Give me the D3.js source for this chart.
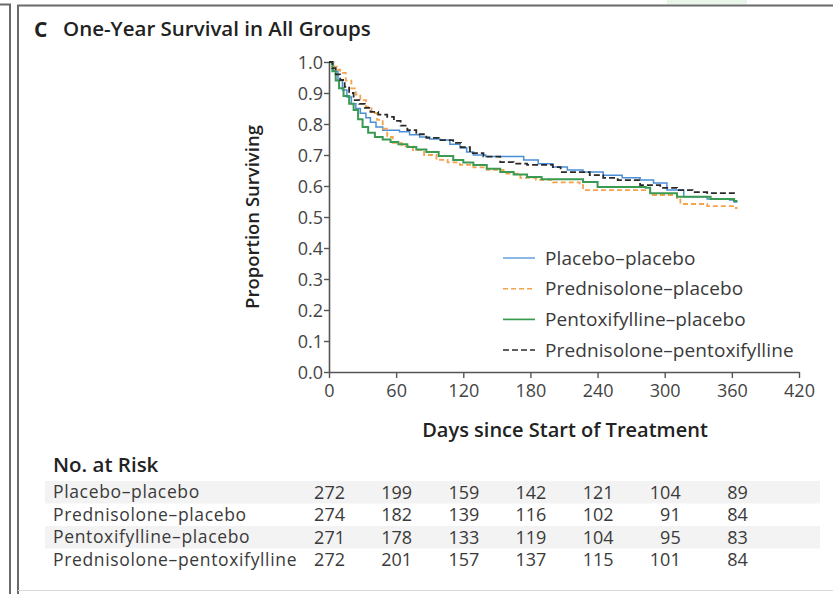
<!DOCTYPE html>
<html>
<head>
<meta charset="utf-8">
<script src="https://cdn.jsdelivr.net/npm/d3@7"></script>
<style>
  body { margin: 0; background: #fff; }
  svg { display: block; font-family: "Open Sans", sans-serif; }
</style>
</head>
<body>
<div id="app"></div>
<script>
// groups and their styles
const groups = ['Placebo\u2013placebo', 'Prednisolone\u2013placebo', 'Pentoxifylline\u2013placebo', 'Prednisolone\u2013pentoxifylline'];
const colors = ['#4a8fd6', '#f4a24c', '#3a9a52', '#2a2a2a'];
const dashes = [null, '5,3', null, '6,3'];
const widths = [1.5, 1.8, 2, 1.8];

// Kaplan-Meier steps: [day, proportion]
const placeboPlacebo = [[0,1],[4,0.97],[8,0.94],[12,0.91],[16,0.887],[20,0.865],[24,0.85],[28,0.835],[33,0.82],[37,0.806],[42,0.79],[48,0.78],[63,0.775],[72,0.765],[81,0.758],[90,0.752],[99,0.748],[108,0.735],[117,0.723],[123,0.71],[129,0.7],[140,0.695],[174,0.684],[187,0.672],[200,0.661],[213,0.652],[227,0.645],[245,0.635],[262,0.627],[278,0.619],[290,0.61],[302,0.587],[317,0.565],[338,0.558],[358,0.555],[362,0.548],[365,0.548]];
const prednisolonePlacebo = [[0,1],[4,0.985],[7,0.975],[10,0.965],[15,0.94],[20,0.915],[24,0.895],[28,0.877],[33,0.855],[38,0.835],[43,0.813],[48,0.785],[52,0.758],[57,0.739],[65,0.728],[75,0.716],[85,0.7],[96,0.684],[106,0.676],[117,0.668],[129,0.66],[141,0.652],[156,0.64],[171,0.626],[185,0.62],[200,0.612],[224,0.603],[227,0.587],[269,0.587],[287,0.571],[311,0.561],[314,0.542],[338,0.535],[362,0.529],[365,0.529]];
const pentoxifyllinePlacebo = [[0,1],[3,0.97],[6,0.94],[9,0.915],[13,0.89],[18,0.865],[22,0.845],[26,0.815],[30,0.79],[35,0.772],[41,0.758],[48,0.75],[55,0.742],[62,0.735],[70,0.726],[78,0.718],[87,0.71],[98,0.697],[111,0.684],[120,0.676],[129,0.668],[141,0.656],[153,0.645],[165,0.637],[177,0.629],[190,0.622],[227,0.613],[240,0.597],[283,0.594],[287,0.577],[311,0.565],[341,0.558],[362,0.552],[365,0.552]];
const prednisolonePentox = [[0,1],[3,0.98],[6,0.96],[10,0.942],[14,0.92],[18,0.9],[22,0.877],[27,0.865],[32,0.852],[37,0.839],[44,0.83],[52,0.823],[58,0.81],[64,0.795],[70,0.78],[78,0.767],[87,0.755],[98,0.748],[111,0.739],[118,0.725],[126,0.706],[138,0.695],[153,0.677],[165,0.672],[177,0.668],[200,0.661],[207,0.645],[233,0.635],[245,0.626],[258,0.619],[278,0.603],[296,0.594],[311,0.587],[325,0.58],[338,0.577],[365,0.577]];
const curves = [placeboPlacebo, prednisolonePlacebo, pentoxifyllinePlacebo, prednisolonePentox];

// axes
const xTicks = [0, 60, 120, 180, 240, 300, 360, 420];
const yTicks = [0, 0.1, 0.2, 0.3, 0.4, 0.5, 0.6, 0.7, 0.8, 0.9, 1.0];

// number at risk
const riskDays = [0, 60, 120, 180, 240, 300, 360];
const riskPlacebo = [272, 199, 159, 142, 121, 104, 89];
const riskPrednisolone = [274, 182, 139, 116, 102, 91, 84];
const riskPentox = [271, 178, 133, 119, 104, 95, 83];
const riskBoth = [272, 201, 157, 137, 115, 101, 84];
const riskRows = [riskPlacebo, riskPrednisolone, riskPentox, riskBoth];

const W = 833, H = 594;
const textColor = '#3a3a3a';

const svg = d3.select('#app').append('svg')
  .attr('width', W)
  .attr('height', H);

// frames
svg.append('rect').attr('x', 667).attr('y', 0).attr('width', 80).attr('height', 4).attr('fill', '#eaf6ea');
svg.append('path').attr('d', 'M0,4.5H10V594').attr('fill', 'none').attr('stroke', '#6a6a6a').attr('stroke-width', 2);
svg.append('path').attr('d', 'M18,594V5.5H833').attr('fill', 'none').attr('stroke', '#6a6a6a').attr('stroke-width', 2);
svg.append('line').attr('x1', 18).attr('x2', 833).attr('y1', 590.5).attr('y2', 590.5).attr('stroke', '#d8d8d8').attr('stroke-width', 1);

// title
svg.append('text').attr('x', 34).attr('y', 37)
  .attr('font-size', 21).attr('font-weight', 700).attr('fill', '#222').text('C');
svg.append('text').attr('x', 63).attr('y', 36)
  .attr('font-size', 20.5).attr('font-weight', 600).attr('fill', '#222')
  .text('One-Year Survival in All Groups');

const x = d3.scaleLinear().domain([0, 420]).range([329, 799]);
const y = d3.scaleLinear().domain([0, 1]).range([372, 62]);

const xAxis = svg.append('g')
  .attr('transform', `translate(0,${y(0)})`)
  .call(d3.axisBottom(x).tickValues(xTicks).tickSize(6).tickPadding(6).tickSizeOuter(0));
const yAxis = svg.append('g')
  .attr('transform', `translate(${x(0)},0)`)
  .call(d3.axisLeft(y).tickValues(yTicks).tickFormat(d3.format('.1f')).tickSize(5).tickPadding(1).tickSizeOuter(0));

[xAxis, yAxis].forEach(g => {
  g.attr('font-size', null).attr('font-family', null);
  g.select('.domain').attr('stroke', '#555').attr('stroke-width', 1.6);
  g.selectAll('.tick line').attr('stroke', '#555').attr('stroke-width', 1.4);
  g.selectAll('.tick text').attr('fill', '#444').style('font-size', '18px');
});
yAxis.selectAll('.tick text').attr('dy', '0.35em');

// axis titles
svg.append('text')
  .attr('transform', `translate(259,${y(0.5)}) rotate(-90)`)
  .attr('text-anchor', 'middle')
  .attr('font-size', 18.5).attr('font-weight', 600).attr('fill', '#222')
  .text('Proportion Surviving');
svg.append('text')
  .attr('x', 565).attr('y', 437)
  .attr('text-anchor', 'middle')
  .attr('font-size', 20).attr('font-weight', 600).attr('fill', '#222')
  .text('Days since Start of Treatment');

// curves
const line = d3.line()
  .x(d => x(d[0]))
  .y(d => y(d[1]))
  .curve(d3.curveStepAfter);

svg.append('g').selectAll('path')
  .data(curves)
  .join('path')
  .attr('d', line)
  .attr('fill', 'none')
  .attr('stroke', (d, i) => colors[i])
  .attr('stroke-width', (d, i) => widths[i])
  .attr('stroke-dasharray', (d, i) => dashes[i]);

// legend
const legend = svg.append('g').attr('transform', 'translate(503,258)');
const legendItem = legend.selectAll('g')
  .data(groups)
  .join('g')
  .attr('transform', (d, i) => `translate(0,${i * 30.7})`);
legendItem.append('line')
  .attr('x1', 0).attr('x2', 32)
  .attr('stroke', (d, i) => colors[i])
  .attr('stroke-width', (d, i) => widths[i] * 0.85)
  .attr('stroke-dasharray', (d, i) => dashes[i]);
legendItem.append('text')
  .attr('x', 42).attr('dy', '0.35em')
  .attr('font-size', 19).attr('fill', textColor)
  .attr('letter-spacing', 0.1)
  .text(d => d);

// number at risk table
svg.append('text').attr('x', 53).attr('y', 472)
  .attr('font-size', 20.5).attr('font-weight', 600).attr('fill', '#222')
  .text('No. at Risk');

const rowY = d3.scaleBand().domain(d3.range(4)).range([481, 571]);
const rows = svg.append('g').selectAll('g')
  .data(riskRows)
  .join('g')
  .attr('transform', (d, i) => `translate(0,${rowY(i)})`);
rows.filter((d, i) => i % 2 === 0)
  .append('rect')
  .attr('x', 45).attr('width', 775)
  .attr('height', rowY.bandwidth())
  .attr('fill', '#f3f3f3');
rows.append('text')
  .attr('x', 53).attr('y', rowY.bandwidth() / 2).attr('dy', '0.35em')
  .attr('font-size', 17.5).attr('fill', textColor)
  .attr('letter-spacing', 0.65)
  .text((d, i) => groups[i]);
rows.selectAll('.n')
  .data(d => d)
  .join('text')
  .attr('class', 'n')
  .attr('x', (d, j) => x(riskDays[j]) + 16)
  .attr('y', rowY.bandwidth() / 2).attr('dy', '0.35em')
  .attr('text-anchor', 'end')
  .attr('font-size', 18).attr('fill', textColor)
  .text(d => d);
</script>
</body>
</html>
